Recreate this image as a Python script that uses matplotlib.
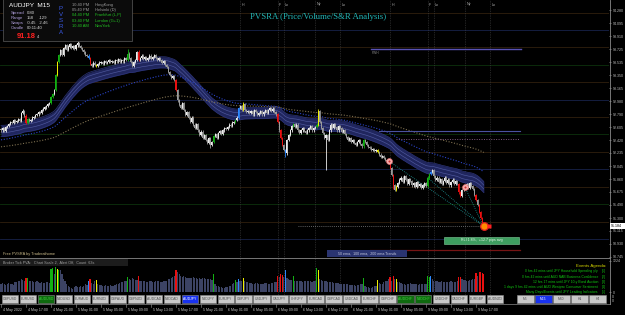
import numpy as np
import matplotlib
matplotlib.use("Agg")
import matplotlib.pyplot as plt
from matplotlib.patches import Rectangle
from matplotlib.transforms import blended_transform_factory

# ---------------- data ----------------
symbol = "AUDJPY"
timeframe = "M15"
first_open = 92.58
closes = [
 92.56, 92.59, 92.55, 92.61, 92.62,
 92.65, 92.68, 92.67, 92.71, 92.68, 92.69, 92.72, 92.69,
 92.81, 92.84, 92.77,
 92.67, 92.72, 92.69,
 92.71, 92.74, 92.75, 92.78, 92.79, 92.82, 92.81, 92.85, 92.87, 92.89, 92.91, 92.94, 92.95,
 93.04, 93.08, 93.14,
 93.35, 93.54, 93.64,
 93.71, 93.64, 93.74,
 93.78, 93.71, 93.76, 93.80, 93.74, 93.77, 93.73, 93.78, 93.81, 93.77,
 93.74, 93.71, 93.68, 93.64, 93.63,
 93.60, 93.51,
 93.48, 93.53, 93.50, 93.48, 93.51,
 93.53, 93.54, 93.51, 93.55, 93.53, 93.54, 93.57, 93.54, 93.55, 93.53, 93.57, 93.55, 93.58, 93.54, 93.57, 93.55, 93.60, 93.57,
 93.66,
 93.60, 93.54, 93.48,
 93.54, 93.57, 93.68,
 93.57,
 93.60, 93.63, 93.58, 93.61, 93.57, 93.60, 93.63, 93.58, 93.61, 93.64, 93.60, 93.57, 93.60,
 93.57, 93.53, 93.55, 93.50, 93.47,
 93.40, 93.35, 93.31, 93.34, 93.28,
 93.14,
 92.99, 92.92, 92.88, 92.95, 92.85, 92.78, 92.82, 92.74,
 92.68, 92.74, 92.64, 92.59, 92.65, 92.56, 92.49, 92.54,
 92.45, 92.49, 92.42, 92.38, 92.45, 92.35, 92.39,
 92.48,
 92.51, 92.45, 92.52, 92.55, 92.51, 92.56, 92.59, 92.58, 92.61,
 92.64, 92.62, 92.67, 92.68, 92.71, 92.74,
 92.88, 92.91, 92.85, 92.94, 92.85, 92.82, 92.84,
 92.81, 92.84, 92.79, 92.85, 92.82, 92.78, 92.81, 92.84, 92.79, 92.82, 92.85, 92.81,
 92.85, 92.88, 92.84, 92.87, 92.82, 92.79,
 92.68, 92.56, 92.45, 92.35, 92.28, 92.23,
 92.42, 92.49, 92.56, 92.62,
 92.65,
 92.61, 92.64, 92.56, 92.52, 92.56, 92.59, 92.55, 92.52, 92.56, 92.59, 92.62, 92.56, 92.59, 92.61,
 92.64,
 92.84,
 92.68, 92.59, 92.52, 92.45, 92.49, 92.42,
 92.56, 92.64, 92.59, 92.65, 92.61, 92.56, 92.62, 92.59, 92.54, 92.56, 92.51,
 92.46, 92.42, 92.45, 92.39, 92.42, 92.38, 92.35, 92.39, 92.42, 92.36, 92.33,
 92.42,
 92.39, 92.35, 92.32, 92.31, 92.28, 92.29, 92.26, 92.28,
 92.25, 92.21,
 92.18, 92.19, 92.16, 92.13, 92.12,
 92.10,
 92.02, 91.92, 91.77, 91.70, 91.75,
 91.80, 91.85, 91.88, 91.82, 91.90, 91.85, 91.79, 91.86,
 91.83, 91.77, 91.80, 91.75, 91.82, 91.76, 91.79, 91.73, 91.77, 91.80, 91.76,
 91.88, 91.93, 91.96, 91.99,
 91.90, 91.85, 91.88, 91.82, 91.86, 91.79, 91.83, 91.88, 91.80, 91.85, 91.77, 91.82, 91.85, 91.79, 91.83,
 91.79, 91.67, 91.62,
 91.70, 91.73, 91.76, 91.79, 91.73, 91.80, 91.76, 91.72,
 91.63, 91.56, 91.49, 91.39, 91.30, 91.21, 91.184,
]
volumes = [
 300, 340, 310, 280, 330, 350, 300, 320, 290,
 400, 380, 430, 450, 520, 480, 420, 560, 540, 440, 420,
 420, 400, 380, 430, 410, 360, 390, 370, 350, 400, 380, 360,
 900, 950, 700, 1000, 920, 880,
 850, 700, 500, 420, 300, 220, 180, 150,
 120, 200, 220, 180, 210, 230, 190, 250, 300, 280,
 450, 520, 350, 300, 420, 480, 320,
 280, 260, 250, 240, 270, 230, 220, 260, 250, 240, 280, 300, 320, 350, 380, 400,
 420, 450, 600, 500, 480, 550, 500, 460, 480, 620,
 450, 430, 420, 440, 410, 400, 420, 430, 410, 400, 420, 440, 420, 400, 410, 430, 440, 450,
 500, 520, 560, 600, 650, 850, 780, 700, 650, 600, 620, 580, 560, 540,
 560, 550, 580, 540, 560, 530, 550, 520, 540, 560, 530, 510, 520, 500, 480,
 700,
 300, 250, 220, 200, 180, 160, 150, 180, 200, 220, 250, 300,
 350, 480, 400, 520, 450, 420, 560, 440, 400, 380,
 360, 340, 330, 320, 350, 340, 330, 320, 310, 330, 350, 340, 320, 330, 340, 360, 380, 400,
 650, 600, 700, 680, 600, 850, 550, 500, 480, 460, 640,
 450, 430, 420, 440, 420, 410, 430, 420, 440, 430, 420, 410, 430, 450,
 950, 880,
 500, 460, 440, 430, 420, 410, 400, 390, 380, 370, 360, 350, 340, 330, 320, 330, 320,
 310, 300, 290, 280, 270, 260, 250, 260, 280, 300, 320,
 550,
 250, 200, 180, 150, 160, 200, 220, 250,
 480, 350, 300, 320, 400, 450, 420, 500, 600, 450, 620, 500, 530,
 400, 380, 350, 320, 300, 280, 300, 320, 340, 330, 320, 310, 300, 290, 310, 320, 300, 310, 320,
 650, 600, 620, 500,
 450, 420, 430, 410, 400, 420, 410, 400, 390, 400, 410, 420, 400, 380, 400, 420,
 600, 580,
 500, 480, 460, 450, 440, 460, 480, 500, 520,
 750, 650, 780, 800, 760, 700,
]
red_bars = [16, 57, 88, 112, 177, 179, 180, 249, 251, 293, 294, 304, 306, 307, 308, 309]
green_bars = [17, 32, 33, 35, 37, 81, 136, 150, 187, 202, 232, 273, 274]
yellow_bars = [36, 61, 155, 203, 241, 253]
blue_bars = [56, 152, 182, 275]
high_wicks = {14: 92.87, 49: 93.84, 81: 93.72, 88: 93.71, 203: 92.86, 155: 92.97}
low_wicks = {182: 92.18, 208: 91.99, 309: 91.14, 134: 92.31, 251: 91.72}

ema_seeds = {50: 92.55, 100: 92.42, 200: 92.32}
price_ticks = [94.280, 94.095, 93.910, 93.725, 93.535, 93.350, 93.165, 92.980, 92.790,
               92.605, 92.420, 92.235, 92.045, 91.860, 91.675, 91.490, 91.300, 91.115,
               90.930, 90.745]
round_levels = [94.25, 94.00, 93.75, 93.50, 93.25, 93.00, 92.75, 92.50, 92.25, 92.00,
                91.75, 91.50, 91.25, 91.00]
time_labels = ["4 May 2022", "4 May 17:00", "4 May 21:00", "5 May 01:00", "5 May 05:00",
               "5 May 09:00", "5 May 13:00", "5 May 17:00", "5 May 21:00", "6 May 01:00",
               "6 May 05:00", "6 May 09:00", "6 May 13:00", "6 May 17:00", "6 May 21:00",
               "9 May 01:00", "9 May 05:00", "9 May 09:00", "9 May 13:00", "9 May 17:00"]
bars_per_label = 16
session_bars = [153, 177, 181, 201, 217, 249, 273, 277, 297, 313]
session_names = ["H", "F", "Lo", "Ny", "Lo", "H", "F", "Lo", "Ny", "Lo"]
pwh_level, pwh_span = 93.72, (237, 333)
pivot_level, pivot_span = 92.55, (242, 332)
dotted_level, dotted_span = 92.43, (253, 332)
red_level, red_span = 90.84, (236, 332)
bid = 91.184
bid_span = (190, 309)
signal_points = [(248, 92.12), (297, 91.74)]
signal_lines = [((248, 92.12), (308.6, 91.19)), ((273, 91.88), (308.6, 91.19)),
                ((297, 91.74), (308.6, 91.19))]
vol_max = 1224
pairs = ["GBPUSD", "EURUSD", "AUDUSD", "NZDUSD", "EURAUD", "EURNZD", "GBPAUD", "GBPNZD",
         "AUDCAD", "NZDCAD", "AUDJPY", "NZDJPY", "EURJPY", "GBPJPY", "USDJPY", "CADJPY",
         "CHFJPY", "EURCAD", "GBPCAD", "USDCAD", "EURCHF", "GBPCHF", "AUDCHF", "NZDCHF",
         "USDCHF", "CADCHF", "EURGBP", "AUDNZD"]
green_pairs = ["AUDUSD", "AUDCHF", "NZDCHF"]
tfs = ["M5", "M15", "M30", "H1", "H4"]
events = ["0 hrs 42 mins until JPY Household Spending y/y",
          "0 hrs 42 mins until AUD NAB Business Confidence",
          "12 hrs 17 mins until JPY 10-y Bond Auction",
          "1 days 9 hrs 42 mins until AUD Westpac Consumer Sentiment",
          "Many Days/Events until JPY Leading Indicators"]
clock_times = ["10:40 PM", "05:40 PM", "04:40 PM", "03:40 PM", "10:40 AM"]
clock_cities = ["HongKong", "Helsinki (D)", "Frankfurt (L,P)", "London (G+1)", "NewYork"]

# ---------------- figure ----------------
W, H = 625, 315
plt.rcParams['font.family'] = ['Liberation Sans', 'DejaVu Sans']
fig = plt.figure(figsize=(W / 100, H / 100), dpi=100, facecolor='black')

def fx(x):
    return x / W

def fy(y):
    return 1 - y / H

def ftext(x, y, s, **kw):
    kw.setdefault('va', 'center')
    kw.setdefault('ha', 'left')
    fig.text(fx(x), fy(y), s, **kw)

def frect(x0, y0, x1, y1, **kw):
    fig.patches.append(Rectangle((fx(x0), fy(y1)), (x1 - x0) / W, (y1 - y0) / H,
                                 transform=fig.transFigure, figure=fig, **kw))

px_per_bar = 1.5625
x_left = -1 / px_per_bar
x_right = 608 / px_per_bar
main_top, main_bot = 0, 258
y_top_price = 94.43
price_per_px = 0.014354

ax = fig.add_axes([0, fy(main_bot), 609 / W, (main_bot - main_top) / H])
axv = fig.add_axes([0, fy(303), 609 / W, 45 / H])
for a in (ax, axv):
    a.set_facecolor('black')
    for s in a.spines.values():
        s.set_visible(False)
    a.set_xlim(x_left, x_right)
    a.set_xticks([])

ax.set_ylim(y_top_price - main_bot * price_per_px, y_top_price)
vpp = vol_max / 31.0
axv.set_ylim(-11 * vpp, vol_max + 3 * vpp)

n = len(closes)
idx = np.arange(n)
c = np.array(closes)
o = np.array([first_open] + closes[:-1])
hi = np.maximum(o, c) + 0.018
lo = np.minimum(o, c) - 0.018
for k, v in high_wicks.items():
    hi[k] = v
for k, v in low_wicks.items():
    lo[k] = v

colors = np.where(c >= o, '#ececec', '#9c9c9c').astype(object)
vcolors = np.array(['#3c4364'] * n, dtype=object)
for lst, col in ((red_bars, '#e81010'), (green_bars, '#12b012'),
                 (yellow_bars, '#f0f000'), (blue_bars, '#2a88ff')):
    for k in lst:
        colors[k] = col
        vcolors[k] = col

# round-number levels
lvl_cols = {0.0: '#17224a', 0.5: '#0c320c', 0.25: '#30200e', 0.75: '#30200e'}
for lv in round_levels:
    frac = round(lv - np.floor(lv), 2)
    ax.axhline(lv, color=lvl_cols[frac], lw=0.6, zorder=1)

# EMAs
def ema(vals, span, seed):
    alpha = 2.0 / (span + 1)
    e = seed
    out = []
    for v in vals:
        e = alpha * v + (1 - alpha) * e
        out.append(e)
    return np.array(out)

e50 = ema(closes, 50, ema_seeds[50])
e100 = ema(closes, 100, ema_seeds[100])
e200 = ema(closes, 200, ema_seeds[200])
band = 0.08
ax.fill_between(idx, e50 - band, e50 + band, color='#20265e', lw=0, zorder=2)
ax.plot(idx, e50 + band, color='#2c3478', lw=0.5, zorder=2)
ax.plot(idx, e50 - band, color='#2c3478', lw=0.5, zorder=2)
ax.plot(idx, e50 + 0.028, color='#4f589e', lw=0.45, zorder=2)
ax.plot(idx, e50 - 0.028, color='#4f589e', lw=0.45, zorder=2)
ax.plot(idx, e100, color='#2a44c8', lw=0.8, ls=(0, (1, 1.5)), zorder=2)
ax.plot(idx, e200, color='#7e7050', lw=0.8, ls=(0, (1, 1.5)), zorder=2)

# session vertical lines
for sb in session_bars:
    for a in (ax, axv):
        a.axvline(sb, color='#444444', lw=0.5, ls=(0, (1, 1.5)), zorder=1)

# extra levels
ax.plot(pwh_span, [pwh_level] * 2, color='#5a52b4', lw=1.0, zorder=2)
ax.plot(pivot_span, [pivot_level] * 2, color='#4a52a0', lw=0.8, zorder=2)
ax.plot(dotted_span, [dotted_level] * 2, color='#805a80', lw=0.7, ls=(0, (1, 1.5)), zorder=2)
ax.plot(red_span, [red_level] * 2, color='#761414', lw=0.9, zorder=2)
ax.plot(bid_span, [bid] * 2, color='#808080', lw=0.6, ls=(0, (1, 1.5)), zorder=2)
for (p0, p1) in signal_lines:
    ax.plot([p0[0], p1[0]], [p0[1], p1[1]], color='#1f9a9a', lw=0.6,
            ls=(0, (1, 1.5)), zorder=3)

# candles
ax.vlines(idx, lo, hi, colors=list(colors), lw=0.6, zorder=4)
body = np.maximum(np.abs(c - o), 0.006)
ax.bar(idx, body, bottom=np.minimum(o, c), width=0.7, color=list(colors), lw=0, zorder=4)

# signal markers
for (b, p) in signal_points:
    ax.plot(b, p, 'o', ms=4.2, mfc='#f5b0b0', mec='#e07070', mew=0.5, zorder=6)
    ax.plot(b, p, 'o', ms=1.5, mfc='#d03030', mec='none', zorder=6)
ax.plot(n - 1, bid, 'o', ms=5.5, mfc='#ff8c00', mec='#e02020', mew=0.9, zorder=6)
ax.plot(n - 1 + 3.5, bid, 's', ms=2.2, mfc='#ff2020', mec='none', zorder=6)

# price axis
ax.yaxis.tick_right()
ax.set_yticks(price_ticks)
ax.set_yticklabels([f"{t:.3f}" for t in price_ticks])
ax.tick_params(axis='y', colors='#bdbdbd', labelsize=2.6, length=1.5, width=0.4, pad=1)
axv.yaxis.tick_right()
axv.set_yticks([vol_max, 0])
axv.set_yticklabels([str(vol_max), "0"])
axv.tick_params(axis='y', colors='#bdbdbd', labelsize=2.6, length=1.5, width=0.4, pad=1)

# volume bars
axv.bar(idx, volumes, width=0.78, color=list(vcolors), lw=0, zorder=3)

# frame lines
fig.lines.append(plt.Line2D([fx(609.5)] * 2, [fy(0), fy(304)], transform=fig.transFigure,
                            color='#8a8a8a', lw=0.6))
fig.lines.append(plt.Line2D([fx(0), fx(609.5)], [fy(258)] * 2, transform=fig.transFigure,
                            color='#8a8a8a', lw=0.6))
fig.lines.append(plt.Line2D([fx(0), fx(609.5)], [fy(304)] * 2, transform=fig.transFigure,
                            color='#8a8a8a', lw=0.5))

# current price box
frect(610, 222.8, 625, 229.3, facecolor='white', edgecolor='none', zorder=5)
ftext(611, 226.1, f"{bid:.3f}", color='black', fontsize=2.6, zorder=6)
for yy in (296.5, 300.5):
    ftext(612, yy, "0", color='#bdbdbd', fontsize=2.6)

# time axis
tr = blended_transform_factory(axv.transData, fig.transFigure)
for i, lab in enumerate(time_labels):
    b = i * bars_per_label
    fig.lines.append(plt.Line2D([b, b], [fy(304), fy(306.5)], transform=tr,
                                color='#9a9a9a', lw=0.4))
    fig.text(b + 1.2, fy(310), lab, transform=tr, color='#c8c8c8', fontsize=2.6,
             va='center', ha='left')

# session labels
trm = blended_transform_factory(ax.transData, fig.transFigure)
for sb, nm in zip(session_bars, session_names):
    fig.text(sb + 0.8, fy(4.5), nm, transform=trm, color='#a8a8a8', fontsize=2.6,
             va='center', ha='left')

ax.text(pwh_span[0] + 0.5, pwh_level - 0.045, "PWH", color='#8a8a8a', fontsize=2.3,
        va='center', ha='left', zorder=5)

# title
ftext(318, 17, "PVSRA (Price/Volume/S&R Analysis)", color='#22b6b6', fontsize=6.3,
      ha='center', family=['Liberation Serif', 'DejaVu Serif'])

# info panel
frect(3, -1, 132, 41, facecolor='#0b0b0b', edgecolor='#5a5a5a', lw=0.5, zorder=4)
ftext(9, 5.5, f"{symbol}  {timeframe}", color='white', fontsize=4.6, zorder=6)
info_rows = [("Spread", "0.80", ""), ("Range", "158", "-129"), ("Swaps", "-0.45", "-2.46"),
             ("Candle", "00:11:40", "")]
for i, (a_, b_, c_) in enumerate(info_rows):
    yy = 12.8 + i * 5.2
    ftext(11, yy, a_, color='#b4a2e0', fontsize=3.1, zorder=6)
    ftext(27, yy, b_, color='#d8d8d8', fontsize=3.1, zorder=6)
    if c_:
        ftext(39, yy, c_, color='#d8d8d8', fontsize=3.1, zorder=6)
ftext(17, 37, "91.18", color='#ff2020', fontsize=5.4, fontweight='bold', zorder=6)
ftext(36.5, 37.5, "4", color='#d8d8d8', fontsize=2.8, zorder=6)
for i, ch in enumerate("PVSRA"):
    ftext(61, 8 + i * 6.2, ch, color='#3a5ae8', fontsize=4.4, ha='center', zorder=6)
for i, (t_, city) in enumerate(zip(clock_times, clock_cities)):
    col = '#9a9a9a' if i < 2 else '#22c022'
    yy = 5 + i * 5.2
    ftext(72, yy, t_, color=col, fontsize=2.9, zorder=6)
    ftext(95, yy, city, color=col, fontsize=2.9, zorder=6)

# bottom-left texts
ftext(3, 254, "Free PVSRA by Traderathome", color='#c8b888', fontsize=2.8)
frect(0, 259, 128, 266, facecolor='#1c1c1c', edgecolor='none', zorder=4)
ftext(3, 262.5, "Broker Tick PVA:   Chart Scale 2,  Alert Off,  Count  63s",
      color='#a0a0a0', fontsize=2.7, zorder=6)

# ema trends label
frect(327, 250, 407, 257, facecolor='#2a3470', edgecolor='none', zorder=4)
ftext(367, 253.5, "50 ema,  100 ema,  200 ema Trends", color='#c4c8dc', fontsize=2.6,
      ha='center', zorder=6)

# RLI label
frect(444, 236.5, 519, 243.5, facecolor='#3e9e60', edgecolor='#7fd09a', lw=0.4, zorder=4)
ftext(481.5, 240, "RLI 1.8%,  +12.7 pips avg", color='#e8f4e8', fontsize=2.6,
      ha='center', zorder=6)

# events agenda
ftext(606, 266, "Events Agenda:", color='#d6d600', fontsize=3.2, ha='right', zorder=6)
for i, ev in enumerate(events):
    yy = 271.3 + i * 5.3
    ftext(598, yy, ev, color='#10c810', fontsize=2.4, ha='right', zorder=6)
    ftext(602, yy, f"[{i + 1}]", color='#10c810', fontsize=2.4, zorder=6)

# pair buttons
for i, p in enumerate(pairs):
    x0 = 2 + i * 17.96
    if p == symbol:
        fc, tc = '#1832f0', 'white'
    elif p in green_pairs:
        fc, tc = '#0f6a0f', '#3ed03e'
    else:
        fc, tc = '#c9c9c9', '#505050'
    frect(x0, 294.5, x0 + 16.4, 302.5, facecolor=fc, edgecolor='#8c8c8c', lw=0.4, zorder=5)
    ftext(x0 + 8.2, 298.5, p, color=tc, fontsize=2.4, ha='center', zorder=7)
for i, t_ in enumerate(tfs):
    x0 = 517 + i * 18
    if t_ == timeframe:
        fc, tc = '#1832f0', 'white'
    else:
        fc, tc = '#c9c9c9', '#505050'
    frect(x0, 294.5, x0 + 17, 302.5, facecolor=fc, edgecolor='#8c8c8c', lw=0.4, zorder=5)
    ftext(x0 + 8.5, 298.5, t_, color=tc, fontsize=2.4, ha='center', zorder=7)

fig.savefig("out.png", dpi=100, facecolor='black')
